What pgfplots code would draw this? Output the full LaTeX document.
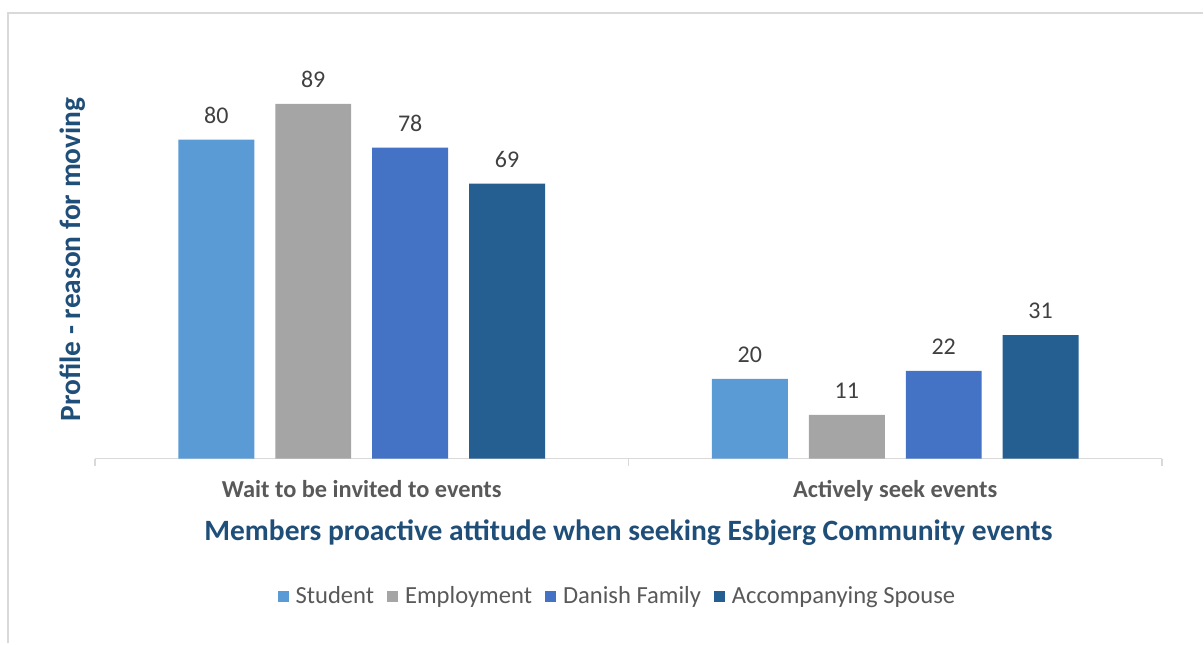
\documentclass[border=0pt]{standalone}
\usepackage{pgfplots}
\pgfplotsset{compat=1.18}
\usepackage{fontspec}
\setmainfont{Carlito}
\definecolor{cStudent}{HTML}{5B9BD5}
\definecolor{cEmploy}{HTML}{A5A5A5}
\definecolor{cDanish}{HTML}{4472C4}
\definecolor{cSpouse}{HTML}{255E91}
\definecolor{titleblue}{HTML}{1F4E79}
\definecolor{labelgray}{HTML}{404040}
\definecolor{tickgray}{HTML}{595959}
\definecolor{linegray}{HTML}{D9D9D9}
\begin{document}
\begin{tikzpicture}
\begin{axis}[
  scale only axis,
  width=534pt, height=199.5pt,
  anchor=south west, at={(0pt,0pt)},
  ybar=10.5pt, bar width=38pt,
  xmin=-0.5, xmax=1.5, ymin=0, ymax=100,
  axis x line=bottom, axis y line=left,
  axis line style={-, draw=linegray, line width=0.75pt},
  y axis line style={draw=none},
  ytick=\empty,
  xtick={0,1},
  xticklabels={Wait to be invited to events, Actively seek events},
  major tick length=0pt,
  minor xtick={-0.5,0.5,1.5},
  minor tick length=3.5pt,
  tick align=outside,
  minor tick style={draw=linegray, line width=0.75pt},
  xticklabel style={font=\fontsize{12.2}{14}\selectfont\bfseries, text=tickgray, yshift=-7.5pt},
  xlabel={Members proactive attitude when seeking Esbjerg Community events},
  xlabel style={at={(axis description cs:0.5,0)}, anchor=center, yshift=-37pt,
    font=\fontsize{14.75}{17}\selectfont\bfseries, text=titleblue},
  ylabel={Profile - reason for moving},
  ylabel style={at={(axis description cs:0,0.5)}, anchor=center, yshift=11pt,
    font=\fontsize{14.7}{17}\selectfont\bfseries, text=titleblue},
  /pgf/number format/assume math mode=true,
  nodes near coords,
  nodes near coords style={font=\fontsize{12}{14}\selectfont, text=labelgray, yshift=4.5pt},
  legend columns=4,
  legend style={draw=none, at={(axis description cs:0.4906,-0.3459)}, anchor=center,
    font=\fontsize{12.3}{14}\selectfont, text=tickgray,
    /tikz/every odd column/.append style={column sep=1.5pt},
    /tikz/every even column/.append style={column sep=4.5pt}},
  legend image code/.code={\fill[#1] (0pt,-2.75pt) rectangle (5.5pt,2.75pt);},
  clip=false,
]
\addplot[fill=cStudent, draw=none] coordinates {(0,80) (1,20)};
\addplot[fill=cEmploy, draw=none] coordinates {(0,89) (1,11)};
\addplot[fill=cDanish, draw=none] coordinates {(0,78) (1,22)};
\addplot[fill=cSpouse, draw=none] coordinates {(0,69) (1,31)};
\legend{Student, Employment, Danish Family, Accompanying Spouse}
\end{axis}
\path (-47.5pt,229.5pt) rectangle (554.5pt,-92.5pt);
\draw[linegray, line width=1pt] (-43.5pt,-92.5pt) -- (-43.5pt,223pt) -- (554.5pt,223pt);
\end{tikzpicture}
\end{document}
